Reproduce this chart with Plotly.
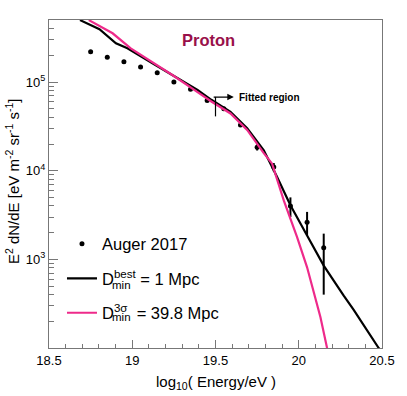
import plotly.graph_objects as go

# Auger 2017 spectrum points (log10 E/eV, E^2 dN/dE)
auger_x = [18.75, 18.85, 18.95, 19.05, 19.15, 19.25, 19.35, 19.45, 19.55,
           19.65, 19.75, 19.85, 19.95, 20.05, 20.15]
auger_y = [2.19e5, 1.91e5, 1.70e5, 1.48e5, 1.27e5, 1.0e5, 8.3e4, 6.2e4, 5.0e4,
           3.27e4, 1.84e4, 1.10e4, 4.0e3, 2.62e3, 1.35e3]
auger_err_up = [0, 0, 0, 0, 0, 0, 0, 0, 0,
                600, 1500, 1200, 1000, 810, 600]
auger_err_dn = [0, 0, 0, 0, 0, 0, 0, 0, 0,
                600, 1500, 1200, 1000, 760, 950]

# best fit, D_min = 1 Mpc
best_x = [18.686, 18.803, 18.902, 18.971, 19.139, 19.277, 19.392, 19.475,
          19.59, 19.69, 19.79, 19.87, 19.95, 20.05, 20.15, 20.27, 20.33,
          20.48, 20.5]
best_y = [5.0e5, 3.94e5, 2.74e5, 2.40e5, 1.56e5, 1.10e5, 8.13e4, 6.31e4,
          4.62e4, 3.02e4, 1.70e4, 8.5e3, 4.07e3, 1.86e3, 851, 389, 269,
          100, 89]

# 3 sigma, D_min = 39.8 Mpc
sig_x = [18.739, 18.882, 18.991, 19.10, 19.25, 19.39, 19.475, 19.59, 19.69,
         19.79, 19.84, 19.91, 19.99, 20.05, 20.10, 20.13, 20.17, 20.18]
sig_y = [5.0e5, 3.55e5, 2.40e5, 1.78e5, 1.17e5, 7.76e4, 6.03e4, 4.42e4,
         2.88e4, 1.58e4, 1.20e4, 4.62e3, 1.78e3, 813, 363, 224, 100, 79]

# fitted region marker
fit_x = [19.5, 19.5]
fit_y = [6.8e4, 4.1e4]

y_major = [1e3, 1e4, 1e5]
y_major_text = ["10<sup>3</sup>", "10<sup>4</sup>", "10<sup>5</sup>"]
y_minor = [200, 300, 400, 500, 600, 700, 800, 900,
           2000, 3000, 4000, 5000, 6000, 7000, 8000, 9000,
           2e4, 3e4, 4e4, 5e4, 6e4, 7e4, 8e4, 9e4,
           2e5, 3e5, 4e5, 5e5]

FONT = "Liberation Sans, Arial, sans-serif"
PINK = "#ee2a8a"

fig = go.Figure()

fig.add_trace(go.Scatter(
    x=auger_x, y=auger_y, mode="markers", name="Auger 2017",
    marker=dict(color="black", size=5),
    error_y=dict(type="data", symmetric=False, array=auger_err_up,
                 arrayminus=auger_err_dn, color="black", thickness=2, width=0),
    legendgroup="a"))

fig.add_trace(go.Scatter(
    x=best_x, y=best_y, mode="lines",
    name="D<sup>best</sup> = 1 Mpc",
    line=dict(color="black", width=2.2), legendgroup="b"))

fig.add_trace(go.Scatter(
    x=sig_x, y=sig_y, mode="lines",
    name="D<sup>3σ</sup>\u00a0 = 39.8 Mpc",
    line=dict(color=PINK, width=2.2), legendgroup="c"))

fig.add_trace(go.Scatter(
    x=fit_x, y=fit_y, mode="lines", showlegend=False,
    line=dict(color="black", width=1.2)))

fig.update_layout(
    width=407, height=396,
    margin=dict(l=49, r=21, t=20, b=48),
    plot_bgcolor="white", paper_bgcolor="white",
    font=dict(family=FONT, size=13, color="black"),
    showlegend=True,
    legend=dict(x=0.039, y=0.37, xanchor="left", yanchor="top",
                bgcolor="rgba(0,0,0,0)", font=dict(size=16.5),
                tracegroupgap=10, itemwidth=30),
    xaxis=dict(range=[18.5, 20.5], dtick=0.5, tick0=18.5,
               showgrid=False, zeroline=False,
               ticks="inside", ticklen=8, tickcolor="#777",
               showline=True, linecolor="#777", mirror=True,
               tickfont=dict(size=13),
               minor=dict(dtick=0.1, ticks="inside", ticklen=4, tickcolor="#777")),
    yaxis=dict(type="log", range=[2.0, 5.7],
               tickmode="array", tickvals=y_major, ticktext=y_major_text,
               showgrid=False, zeroline=False,
               ticks="inside", ticklen=9, tickcolor="#777",
               showline=True, linecolor="#777", mirror=True,
               tickfont=dict(size=13),
               minor=dict(tickmode="array", tickvals=y_minor, ticks="inside",
                          ticklen=5, tickcolor="#777")),
)

# subscripts "min" stacked under the legend superscripts
for yy in [0.192, 0.095]:
    fig.add_annotation(
        x=0.183, y=yy, xref="paper", yref="paper", text="min",
        showarrow=False, xanchor="left", yanchor="middle", font=dict(size=11.5))

fig.add_annotation(
    x=19.61, y=4.83, ax=19.48, ay=4.83, xref="x", yref="y", axref="x", ayref="y",
    text="", showarrow=True, arrowhead=2, arrowsize=1, arrowwidth=1.3,
    arrowcolor="black")
fig.add_annotation(
    x=19.63, y=4.83, xref="x", yref="y", text="<b>Fitted region</b>",
    showarrow=False, xanchor="left", yanchor="middle", font=dict(size=10))

fig.add_annotation(
    x=0.478, y=0.939, xref="paper", yref="paper", text="<b>Proton</b>",
    showarrow=False, xanchor="center", yanchor="middle",
    font=dict(size=16.5, color="#99104a"))

fig.add_annotation(
    x=0.5, y=-0.104, xref="paper", yref="paper",
    text="log<sub>10</sub>( Energy/eV )", showarrow=False,
    xanchor="center", yanchor="middle", font=dict(size=15))

fig.add_annotation(
    x=-0.11, y=0.51, xref="paper", yref="paper", textangle=-90,
    text="E<sup>2</sup> dN/dE [eV m<sup>-2</sup> sr<sup>-1</sup> s<sup>-1</sup>]",
    showarrow=False, xanchor="center", yanchor="middle", font=dict(size=15))

fig.write_html("out.html", config={"displayModeBar": False},
               post_script="document.body.style.margin='0';"
                           "document.body.style.overflow='hidden';")
